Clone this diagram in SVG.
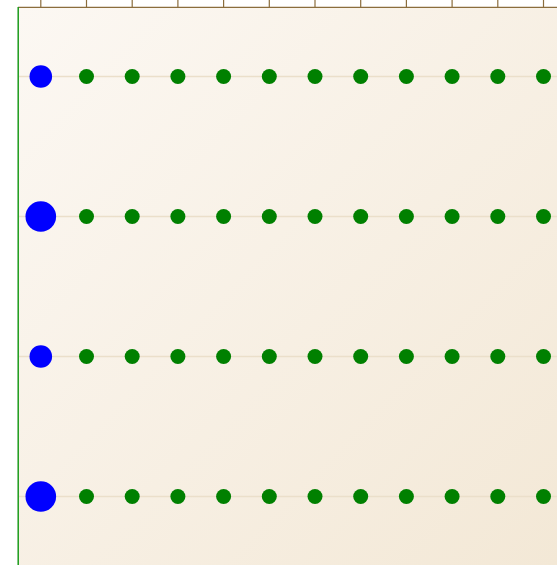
<svg xmlns="http://www.w3.org/2000/svg" width="557" height="565" viewBox="0 0 557 565">
<defs>
<linearGradient id="bg" x1="0" y1="0" x2="1" y2="1">
<stop offset="0" stop-color="#fcf8f3"/>
<stop offset="1" stop-color="#f3e8d6"/>
</linearGradient>
</defs>
<style>
.grid{stroke:#ebdfca;stroke-width:1.5}
.tick{stroke:#8b6d3c;stroke-width:1.2}
.b{fill:#0000ff}
.g{fill:#008000}
</style>
<rect x="0" y="0" width="557" height="565" fill="#ffffff"/>
<rect x="18" y="7" width="539" height="558" fill="url(#bg)"/>
<g id="axes">
<line class="tick" x1="18" y1="7.3" x2="557" y2="7.3"/>
<line class="tick" x1="40.8" y1="0" x2="40.8" y2="7"/>
<line class="tick" x1="86.5" y1="0" x2="86.5" y2="7"/>
<line class="tick" x1="132.2" y1="0" x2="132.2" y2="7"/>
<line class="tick" x1="177.9" y1="0" x2="177.9" y2="7"/>
<line class="tick" x1="223.6" y1="0" x2="223.6" y2="7"/>
<line class="tick" x1="269.3" y1="0" x2="269.3" y2="7"/>
<line class="tick" x1="315" y1="0" x2="315" y2="7"/>
<line class="tick" x1="360.7" y1="0" x2="360.7" y2="7"/>
<line class="tick" x1="406.4" y1="0" x2="406.4" y2="7"/>
<line class="tick" x1="452.1" y1="0" x2="452.1" y2="7"/>
<line class="tick" x1="497.8" y1="0" x2="497.8" y2="7"/>
<line class="tick" x1="543.5" y1="0" x2="543.5" y2="7"/>
<line x1="18.2" y1="7" x2="18.2" y2="565" stroke="#1a9a1a" stroke-width="1.5"/>
</g>
<g id="connectors">
<line class="grid" x1="19" y1="76.5" x2="557" y2="76.5"/>
<line class="grid" x1="19" y1="216.5" x2="557" y2="216.5"/>
<line class="grid" x1="19" y1="356.5" x2="557" y2="356.5"/>
<line class="grid" x1="19" y1="496.5" x2="557" y2="496.5"/>
</g>
<g id="row1">
<circle class="b" cx="40.8" cy="76.5" r="11.3"/>
<circle class="g" cx="86.5" cy="76.5" r="7.5"/><circle class="g" cx="132.2" cy="76.5" r="7.5"/><circle class="g" cx="177.9" cy="76.5" r="7.5"/><circle class="g" cx="223.6" cy="76.5" r="7.5"/><circle class="g" cx="269.3" cy="76.5" r="7.5"/><circle class="g" cx="315" cy="76.5" r="7.5"/><circle class="g" cx="360.7" cy="76.5" r="7.5"/><circle class="g" cx="406.4" cy="76.5" r="7.5"/><circle class="g" cx="452.1" cy="76.5" r="7.5"/><circle class="g" cx="497.8" cy="76.5" r="7.5"/><circle class="g" cx="543.5" cy="76.5" r="7.5"/>
</g>
<g id="row2">
<circle class="b" cx="40.8" cy="216.5" r="15.3"/>
<circle class="g" cx="86.5" cy="216.5" r="7.5"/><circle class="g" cx="132.2" cy="216.5" r="7.5"/><circle class="g" cx="177.9" cy="216.5" r="7.5"/><circle class="g" cx="223.6" cy="216.5" r="7.5"/><circle class="g" cx="269.3" cy="216.5" r="7.5"/><circle class="g" cx="315" cy="216.5" r="7.5"/><circle class="g" cx="360.7" cy="216.5" r="7.5"/><circle class="g" cx="406.4" cy="216.5" r="7.5"/><circle class="g" cx="452.1" cy="216.5" r="7.5"/><circle class="g" cx="497.8" cy="216.5" r="7.5"/><circle class="g" cx="543.5" cy="216.5" r="7.5"/>
</g>
<g id="row3">
<circle class="b" cx="40.8" cy="356.5" r="11.3"/>
<circle class="g" cx="86.5" cy="356.5" r="7.5"/><circle class="g" cx="132.2" cy="356.5" r="7.5"/><circle class="g" cx="177.9" cy="356.5" r="7.5"/><circle class="g" cx="223.6" cy="356.5" r="7.5"/><circle class="g" cx="269.3" cy="356.5" r="7.5"/><circle class="g" cx="315" cy="356.5" r="7.5"/><circle class="g" cx="360.7" cy="356.5" r="7.5"/><circle class="g" cx="406.4" cy="356.5" r="7.5"/><circle class="g" cx="452.1" cy="356.5" r="7.5"/><circle class="g" cx="497.8" cy="356.5" r="7.5"/><circle class="g" cx="543.5" cy="356.5" r="7.5"/>
</g>
<g id="row4">
<circle class="b" cx="40.8" cy="496.5" r="15.3"/>
<circle class="g" cx="86.5" cy="496.5" r="7.5"/><circle class="g" cx="132.2" cy="496.5" r="7.5"/><circle class="g" cx="177.9" cy="496.5" r="7.5"/><circle class="g" cx="223.6" cy="496.5" r="7.5"/><circle class="g" cx="269.3" cy="496.5" r="7.5"/><circle class="g" cx="315" cy="496.5" r="7.5"/><circle class="g" cx="360.7" cy="496.5" r="7.5"/><circle class="g" cx="406.4" cy="496.5" r="7.5"/><circle class="g" cx="452.1" cy="496.5" r="7.5"/><circle class="g" cx="497.8" cy="496.5" r="7.5"/><circle class="g" cx="543.5" cy="496.5" r="7.5"/>
</g>
</svg>
